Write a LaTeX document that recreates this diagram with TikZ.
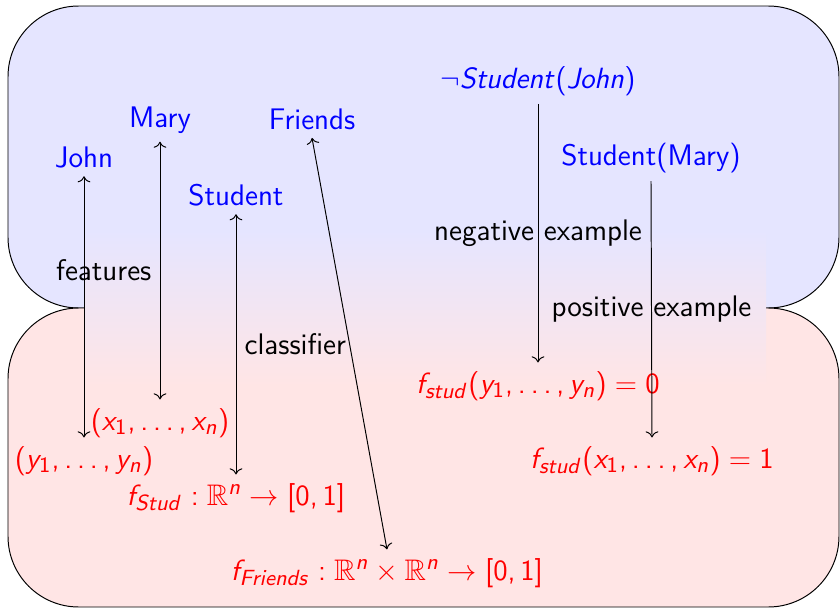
\documentclass[tikz,border=0pt]{standalone}
\usepackage{amsmath,amssymb}
\usetikzlibrary{arrows.meta,positioning}
\renewcommand{\familydefault}{\sfdefault}
% sans-serif math, as on slides
\SetSymbolFont{operators}{normal}{OT1}{cmss}{m}{n}
\SetSymbolFont{letters}{normal}{OT1}{cmss}{m}{it}
\DeclareMathSymbol{,}{\mathpunct}{operators}{"2C}
\DeclareMathSymbol{\ldotp}{\mathpunct}{operators}{"2E}

\begin{document}
\begin{tikzpicture}[
    x=0.41pt, y=-0.41pt,
    font=\fontsize{12.2}{14}\selectfont,
    % node styles
    term/.style    = {text=blue, anchor=base},
    vecnode/.style = {text=red, anchor=base},
    % edges
    link/.style    = {<->},
    target/.style  = {->}
  ]

% ============================================================
% Two regions: symbols (top) and real-valued functions (bottom)
% ============================================================
\useasboundingbox (0,0) rectangle (840,610);
\draw[rounded corners=29pt, fill=blue!10] (8,6) rectangle (839,308);
\draw[rounded corners=29pt, fill=red!10] (8,308) rectangle (839,607);
\shade[top color=blue!10, bottom color=red!10] (84,232) rectangle (766,384);

% Symbols
\node[term] (john)     at (84,167)  {John};
\node[term] (mary)     at (160,127) {Mary};
\node[term] (student)  at (236,205) {Student};
\node[term] (friends)  at (312,129) {Friends};
\node[term] (negjohn)  at (538,88)  {$\neg Student(John)$};
\node[term] (studmary) at (651,165) {Student(Mary)};

% Grounding
\node[vecnode] (ys)       at (84,468)  {$(y_1,\dots,y_n)$};
\node[vecnode] (xs)       at (160,430) {$(x_1,\dots,x_n)$};
\node[vecnode] (fstud)    at (236,505) {$f_{Stud}:\mathbb{R}^n\rightarrow[0,1]$};
\node[vecnode] (ffriends) at (387,580) {$f_{Friends}:\mathbb{R}^n\times\mathbb{R}^n\rightarrow[0,1]$};
\node[vecnode] (fneg)     at (538,393) {$f_{stud}(y_1,\dots,y_n)=0$};
\node[vecnode] (fpos)     at (652,468) {$f_{stud}(x_1,\dots,x_n)=1$};

% Edges
\draw[link] (john.south)    -- (ys.north);
\draw[link] (mary.south)    -- node[left] {features} (xs.north);
\draw[link] (student.south) -- node[right] {classifier} (fstud.north);
\draw[link] (friends.south) -- (ffriends.north);
\draw[target] (negjohn.south)  -- node {negative example} (fneg.north);
\draw[target] (studmary.south) -- node {positive example} (fpos.north);

\end{tikzpicture}
\end{document}
